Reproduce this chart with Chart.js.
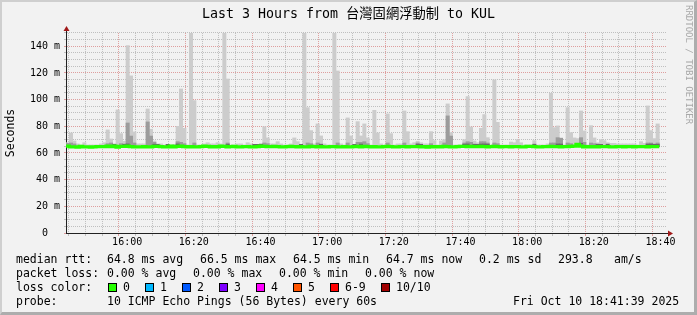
<!DOCTYPE html>
<html>
<head>
<meta charset="utf-8">
<script src="https://cdn.jsdelivr.net/npm/chart.js@4"></script>
<style>
  html, body { margin: 0; padding: 0; background: #f2f2f2; }
  #wrap { position: relative; width: 697px; height: 315px; background: #f2f2f2; overflow: hidden; font-family: "DejaVu Sans Mono", monospace; }
  #chart { position: absolute; left: 0; top: 0; }
  #frame { position: absolute; left: 0; top: 0; width: 697px; height: 315px; box-sizing: border-box;
           border-top: 2px solid #cfcfcf; border-left: 2px solid #cfcfcf;
           border-right: 3px solid #adadad; border-bottom: 3px solid #adadad; pointer-events: none; }
  .t { position: absolute; font-size: 11.5px; line-height: 14px; color: #000; white-space: pre; }
  .box { position: absolute; top: 283px; width: 7px; height: 7px; border: 1px solid #000; }
  #rrd { position: absolute; left: 684px; top: 5px; writing-mode: vertical-rl; font-size: 9px; color: #a8a8a8; white-space: pre; }
</style>
</head>
<body>
<div id="wrap">
  <canvas id="chart" width="697" height="315"></canvas>
  <div id="rrd">RRDTOOL / TOBI OETIKER</div>

  <div class="t" style="left:16px;top:252px">median rtt:</div>
  <div class="t" style="left:107px;top:252px">64.8 ms avg</div>
  <div class="t" style="left:200px;top:252px">66.5 ms max</div>
  <div class="t" style="left:293px;top:252px">64.5 ms min</div>
  <div class="t" style="left:386px;top:252px">64.7 ms now</div>
  <div class="t" style="left:479px;top:252px">0.2 ms sd</div>
  <div class="t" style="left:558px;top:252px">293.8</div>
  <div class="t" style="left:614px;top:252px">am/s</div>

  <div class="t" style="left:16px;top:266px">packet loss:</div>
  <div class="t" style="left:107px;top:266px">0.00 % avg</div>
  <div class="t" style="left:193px;top:266px">0.00 % max</div>
  <div class="t" style="left:279px;top:266px">0.00 % min</div>
  <div class="t" style="left:365px;top:266px">0.00 % now</div>

  <div class="t" style="left:16px;top:280px">loss color:</div>
  <div id="lossKeys"></div>

  <div class="t" style="left:16px;top:294px">probe:</div>
  <div class="t" style="left:107px;top:294px">10 ICMP Echo Pings (56 Bytes) every 60s</div>
  <div class="t" style="left:513px;top:294px">Fri Oct 10 18:41:39 2025</div>

  <div id="frame"></div>
</div>
<script>
// time axis: 3 hours ending 18:41:39, one sample per minute
const startClock = "15:41:39";
const spanMinutes = 180;
const tickLabels = ["16:00", "16:20", "16:40", "17:00", "17:20", "17:40", "18:00", "18:20", "18:40"];
const yMax = 150;

// median rtt (ms), one per minute
const median = [
  65.2, 65.1, 64.6, 64.6, 64.5, 65.0, 64.6, 64.6, 64.5, 64.6, 64.7, 64.7, 64.8, 65.1, 64.8, 65.2, 64.5, 64.9, 64.9, 65.2,
  64.8, 64.6, 64.6, 64.6, 64.7, 64.6, 64.6, 64.9, 64.9, 64.8, 64.6, 64.6, 65.1, 64.6, 64.9, 65.1, 64.7, 64.6, 64.7, 64.6,
  64.6, 64.7, 65.1, 64.9, 64.6, 64.7, 64.6, 65.2, 65.0, 64.6, 64.7, 65.0, 64.6, 64.6, 64.7, 64.8, 64.6, 64.6, 64.7, 65.2,
  65.0, 64.7, 64.8, 65.0, 64.8, 64.6, 64.6, 64.7, 64.9, 64.8, 64.6, 64.7, 64.6, 64.6, 64.9, 64.7, 64.6, 64.8, 64.6, 64.6,
  64.7, 64.8, 64.6, 64.6, 64.7, 64.6, 64.6, 64.8, 64.9, 64.6, 64.9, 64.7, 64.6, 64.7, 64.6, 64.6, 64.7, 64.9, 64.7, 64.6,
  64.6, 64.7, 64.8, 64.6, 64.7, 64.8, 64.7, 64.6, 64.7, 64.5, 64.8, 64.6, 64.8, 64.6, 64.9, 64.7, 64.6, 64.6, 64.8, 65.0,
  65.0, 64.8, 64.9, 64.8, 64.7, 64.9, 64.8, 64.6, 64.7, 64.9, 64.7, 64.6, 64.7, 64.8, 64.6, 64.7, 64.8, 64.6, 64.6, 64.9,
  65.0, 64.8, 64.6, 64.6, 64.7, 64.8, 64.9, 64.7, 64.8, 64.6, 64.7, 64.8, 64.9, 65.1, 66.5, 65.2, 64.6, 64.7, 64.6, 64.8,
  64.6, 64.7, 64.8, 64.7, 64.6, 64.6, 64.7, 64.7, 64.6, 64.7, 64.8, 64.6, 64.8, 64.7, 64.7, 64.6, 64.8, 64.7
];

// highest ping of each minute (outer smoke)
const smokeMax = [
  67.7, 75, 69, 66.8, 66, 67.7, 66, 66, 66, 66,
  66.8, 67.7, 77.3, 70.5, 66, 92.3, 74.5, 68.8, 140.5, 117.8,
  75.8, 66.8, 66.8, 66.8, 93, 77.8, 69, 66.8, 66.8, 66,
  66, 66, 66.5, 80, 108, 78.5, 66, 150, 99.3, 66,
  66, 66.8, 67.7, 66.8, 66.8, 67.7, 66.8, 150, 115.5, 66,
  66, 66.8, 66.8, 66, 67.7, 66.8, 66, 66, 66.8, 79.7,
  71.3, 66.8, 66.8, 68.5, 66.8, 66, 66, 66.8, 71.3, 68.5,
  66, 150, 94, 76.8, 66.8, 81.8, 72.8, 66.8, 66, 66,
  150, 121.5, 66.8, 66, 86.3, 72.8, 66, 83.5, 72.8, 81.8,
  71.3, 66, 92, 75, 66.8, 66, 89.3, 74.5, 66, 66.8,
  66.8, 91.5, 76, 66.8, 67.7, 68.8, 67.7, 66.8, 66.8, 76,
  69.3, 66, 69, 70, 96.8, 75.3, 66, 66, 66, 70,
  102.3, 79.5, 69, 67.7, 78.5, 88.8, 71.5, 66, 114.8, 83,
  66, 66, 66, 68.2, 67.7, 70, 67.7, 66, 66, 66,
  69.3, 66, 66, 66, 66.8, 104.8, 79, 80.3, 71.3, 66,
  94, 75.3, 71.3, 70.8, 91.5, 76.5, 66, 80.5, 71.3, 67.7,
  70, 69.3, 67.7, 67.2, 67.2, 66.8, 66.8, 66.8, 66.8, 66.8,
  66.8, 66, 68.5, 67.2, 95.3, 76.8, 70.8, 81.8
];

// inner smoke (denser pings), only where it shows
const midAt  = [0, 1, 2, 12, 13, 16, 18, 19, 20, 24, 25, 26, 33, 34, 35, 38, 48, 59, 60, 72, 73, 75, 81, 84, 87, 88, 89, 90,
                96, 101, 105, 109, 113, 114, 115, 119, 120, 121, 124, 125, 126, 128, 129, 145, 146, 147, 148, 150, 151, 154, 155,
                157, 158, 174, 175, 177];
const midTop = [67.2, 67.5, 66.8, 67, 67.5, 67, 82.5, 72.7, 67.5, 83.3, 72.7, 68, 68.5, 68, 67, 67.5, 67.5, 67.5, 67, 67.5, 67, 67.5, 67.5, 67.5, 68, 68, 68.5, 67,
                67.5, 67.5, 67.5, 67, 67.5, 87.8, 72.7, 67.5, 68.5, 68, 68.5, 68.5, 67.5, 67.5, 67, 67.5, 67.5, 71.5, 71, 67.5, 67, 71.5, 68,
                67.5, 67, 67.5, 67.5, 67.5];

// core smoke next to the median
const darkAt  = [14, 17, 18, 26, 27, 30, 33, 48, 56, 57, 58, 70, 76, 86, 88, 105, 106, 119, 120, 122, 123, 124, 125, 126, 140, 147, 148,
                 154, 159, 160, 162, 174, 175, 176, 177];
const darkTop = [66.6, 66.6, 66.8, 66.6, 66.5, 66.5, 66.8, 66.6, 66.5, 66.5, 66.6, 66.5, 66.6, 66.5, 66.7, 66.6, 66.5, 66.6, 66.8, 66.6, 66.5, 66.7, 66.8, 66.6, 66.6, 66.8, 66.7,
                 67.3, 66.6, 66.5, 66.6, 66.6, 66.7, 66.6, 66.5];

const lossNames  = ["0", "1", "2", "3", "4", "5", "6-9", "10/10"];
const lossColors = ["#26ff00", "#00b8ff", "#0059ff", "#7e00ff", "#ff00ff", "#ff5500", "#ff0000", "#a00000"];

// loss colour keys
const boxX = [108, 145, 182, 219, 256, 293, 330, 381];
const keyX = [123, 160, 197, 234, 271, 308, 345, 396];
const keys = document.getElementById("lossKeys");
lossNames.forEach((name, k) => {
    const b = document.createElement("div");
    b.className = "box";
    b.style.left = boxX[k] + "px";
    b.style.background = lossColors[k];
    keys.appendChild(b);
    const t = document.createElement("div");
    t.className = "t";
    t.style.left = keyX[k] + "px";
    t.style.top = "280px";
    t.textContent = name;
    keys.appendChild(t);
});

function clockToMin(s) {
    const p = s.split(":").map(Number);
    return p[0] * 60 + p[1] + (p[2] || 0) / 60;
}
const t0 = clockToMin(startClock);
const majorPos = tickLabels.map(l => clockToMin(l) - t0);
const minorPos = [];
for (let v = majorPos[0] - 15; v <= spanMinutes; v += 5) if (v >= 0) minorPos.push(v);
const isMajorX = v => majorPos.some(p => Math.abs(p - v) < 0.01);

const yTicks = [];
for (let v = 0; v <= yMax; v += 5) yTicks.push(v);

const MAJOR = "rgba(205, 90, 90, 0.55)";
const MINOR = "rgba(150, 150, 150, 0.55)";

const lightBars = smokeMax.map((v, i) => ({ x: i + 0.5, y: [median[i], v] }));
const midBars = midAt.map((i, k) => ({ x: i + 0.5, y: [median[i], midTop[k]] }));
const darkBars = darkAt.map((i, k) => ({ x: i + 0.5, y: [median[i], darkTop[k]] }));
const medLine = median.map((v, i) => ({ x: i, y: v }));
medLine.push({ x: median.length, y: median[median.length - 1] });

const axisArrows = {
    id: "axisArrows",
    afterDraw(chart) {
        const { ctx, chartArea: a } = chart;
        const lx = a.left + 0.5, by = a.bottom + 0.5;
        ctx.save();
        ctx.strokeStyle = "#222";
        ctx.lineWidth = 1;
        ctx.beginPath();
        ctx.moveTo(lx, a.top); ctx.lineTo(lx, a.top - 3);
        ctx.moveTo(a.right, by); ctx.lineTo(a.right + 3, by);
        ctx.stroke();
        ctx.fillStyle = "#a01818";
        ctx.beginPath();
        ctx.moveTo(lx - 3, a.top - 2); ctx.lineTo(lx + 3, a.top - 2); ctx.lineTo(lx, a.top - 7);
        ctx.fill();
        ctx.beginPath();
        ctx.moveTo(a.right + 2, by - 3); ctx.lineTo(a.right + 2, by + 3); ctx.lineTo(a.right + 7, by);
        ctx.fill();
        ctx.restore();
    }
};

const mono = "'DejaVu Sans Mono', 'Noto Sans CJK TC', monospace";

new Chart(document.getElementById("chart"), {
    type: "bar",
    data: {
        datasets: [
            { type: "line", data: medLine, borderColor: "#26ff00", borderWidth: 3.3, pointRadius: 0, stepped: "after", order: 0 },
            { data: darkBars, backgroundColor: "#6a6a6a", order: 1 },
            { data: midBars, backgroundColor: "#9c9c9c", order: 2 },
            { data: lightBars, backgroundColor: "#cccccc", order: 3 }
        ]
    },
    options: {
        responsive: false,
        devicePixelRatio: 1,
        animation: false,
        events: [],
        layout: { padding: { left: 0, right: 0, top: 0, bottom: 52 } },
        datasets: {
            bar: { grouped: false, categoryPercentage: 1, barPercentage: 1, borderWidth: 0 }
        },
        plugins: {
            legend: { display: false },
            tooltip: { enabled: false },
            title: {
                display: true,
                text: "Last 3 Hours from 台灣固網浮動制 to KUL",
                color: "#000",
                font: { family: mono, size: 13.3, weight: "normal" },
                padding: { top: 7, bottom: 10 }
            }
        },
        scales: {
            x: {
                type: "linear",
                min: 0,
                max: spanMinutes,
                offset: false,
                afterBuildTicks: scale => { scale.ticks = minorPos.map(v => ({ value: v })); },
                afterFit: scale => { scale.height = 30; },
                ticks: {
                    autoSkip: false,
                    maxRotation: 0,
                    padding: 0,
                    color: "#000",
                    font: { family: mono, size: 10 },
                    callback: v => {
                        const k = majorPos.findIndex(p => Math.abs(p - v) < 0.01);
                        return k >= 0 ? tickLabels[k] : "";
                    }
                },
                grid: {
                    color: c => (c.tick && isMajorX(c.tick.value)) ? MAJOR : MINOR,
                    tickLength: 3
                },
                border: { color: "#222", width: 1, dash: [1, 1] }
            },
            y: {
                min: 0,
                max: yMax,
                afterBuildTicks: scale => { scale.ticks = yTicks.map(v => ({ value: v })); },
                afterFit: scale => { scale.width = 66; },
                ticks: {
                    autoSkip: false,
                    padding: 4,
                    color: "#000",
                    font: { family: mono, size: 10 },
                    callback: v => v % 20 === 0 ? (v === 0 ? "0  " : v + " m") : ""
                },
                grid: {
                    color: c => (c.tick && c.tick.value % 20 === 0) ? MAJOR : MINOR,
                    tickLength: 2
                },
                border: { color: "#222", width: 1, dash: [1, 1] },
                title: {
                    display: true,
                    text: "Seconds",
                    color: "#000",
                    font: { family: mono, size: 11.5 },
                    padding: { top: 4, bottom: 0 }
                }
            },
            // empty right margin, keeps the title centred on the whole image
            side: {
                axis: "y",
                position: "right",
                afterFit: scale => { scale.width = 31; },
                ticks: { display: false },
                grid: { display: false, drawTicks: false },
                border: { display: false }
            }
        }
    },
    plugins: [axisArrows]
});
</script>
</body>
</html>
